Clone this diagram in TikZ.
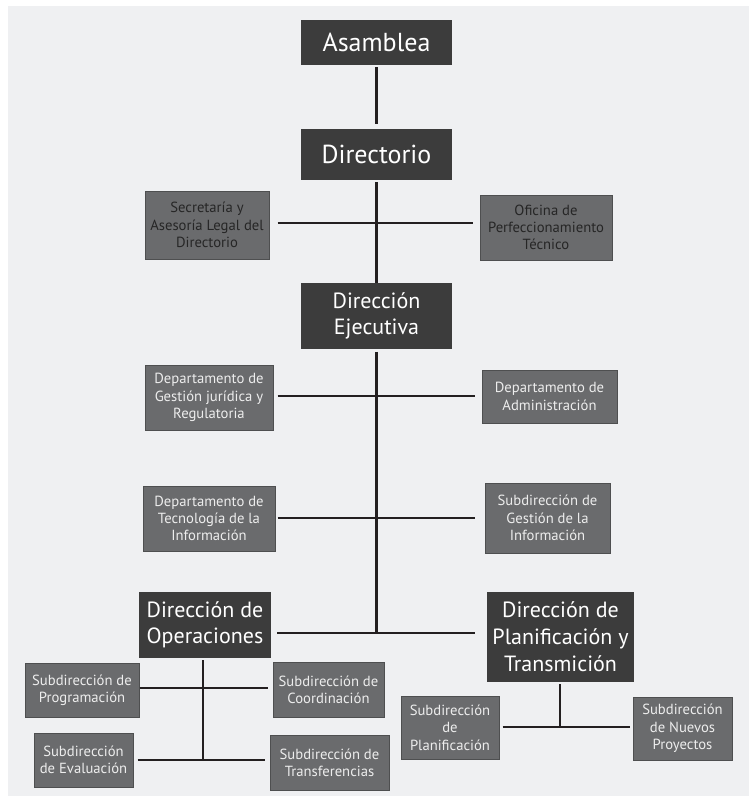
\documentclass[tikz,border=0pt]{standalone}
\usepackage{fontspec}
\setmainfont{PT Sans}
\usetikzlibrary{positioning}
\definecolor{fondo}{HTML}{EFF0F2}
\definecolor{oscuro}{HTML}{3C3C3C}
\definecolor{medio}{HTML}{6A6B6D}
\definecolor{borde}{HTML}{4E4F50}
\definecolor{linea}{HTML}{231F20}
\definecolor{claro}{HTML}{EDEDED}
\definecolor{negro}{HTML}{262626}

\begin{document}
\begin{tikzpicture}[x=0.75pt, y=-0.75pt,
	direccion/.style={fill=oscuro, text=white, align=center, inner sep=0pt, font=\fontsize{16.5}{19.5}\selectfont},
	cargo/.style={direccion, font=\fontsize{19.5}{22}\selectfont},
	unidad/.style={fill=medio, draw=borde, line width=0.75pt, text=claro, align=center, inner sep=0pt, font=\fontsize{11}{13}\selectfont},
	unidadclara/.style={unidad, text=negro},
	enlace/.style={draw=linea, line width=2.2pt}]
				\useasboundingbox (0,0) rectangle (749,796);
				\fill [fondo] (8,6) rectangle (749,796);

				\node [cargo, minimum width=113.25pt, minimum height=33.75pt] (asamblea) at (376.5, 42.5) {Asamblea};
				\node [cargo, minimum width=113.25pt, minimum height=38.25pt] (directorio) at (376.5, 154.5) {Directorio};
				\node [unidadclara, minimum width=93pt, minimum height=51pt] (secretaria) at (207, 225) {Secretaría y\\Asesoría Legal del\\Directorio};
				\node [unidadclara, minimum width=99pt, minimum height=48.75pt] (oficina) at (546, 227.5) {Oficina de\\Perfeccionamiento\\Técnico};
				\node [direccion, minimum width=113.25pt, minimum height=49.5pt] (ejecutiva) at (376.5, 316) {Dirección\\Ejecutiva};
				\node [unidad, minimum width=96pt, minimum height=48.75pt] (juridica) at (209, 397.5) {Departamento de\\Gestión jurídica y\\Regulatoria};
				\node [unidad, minimum width=101.25pt, minimum height=39.75pt] (administracion) at (549.5, 396.5) {Departamento de\\Administración};
				\node [unidad, minimum width=99pt, minimum height=48.75pt] (tecnologia) at (209, 518.5) {Departamento de\\Tecnología de la\\Información};
				\node [unidad, minimum width=93.75pt, minimum height=52.5pt] (gestioninfo) at (547.5, 518) {Subdirección de\\Gestión de la\\Información};
				\node [direccion, minimum width=99pt, minimum height=49.5pt] (operaciones) at (205, 625) {Dirección de\\Operaciones};
				\node [direccion, minimum width=110.25pt, minimum height=67.5pt, font=\fontsize{16.5}{20.25}\selectfont] (planificacion) at (560.5, 637) {Dirección de\\Planificación y\\Transmición};
				\node [unidad, minimum width=85.5pt, minimum height=40.5pt] (programacion) at (82, 690) {Subdirección de\\Programación};
				\node [unidad, minimum width=83.25pt, minimum height=41.25pt] (coordinacion) at (328.5, 689.5) {Subdirección de\\Coordinación};
				\node [unidad, minimum width=74.25pt, minimum height=40.5pt] (evaluacion) at (83.5, 760) {Subdirección\\de Evaluación};
				\node [unidad, minimum width=89.25pt, minimum height=41.25pt] (transferencias) at (329.5, 762.5) {Subdirección de\\Transferencias};
				\node [unidad, minimum width=73.5pt, minimum height=47.25pt] (subplanif) at (450, 727.5) {Subdirección\\de\\Planificación};
				\node [unidad, minimum width=74.25pt, minimum height=47.25pt] (nuevos) at (682.5, 728.5) {Subdirección\\de Nuevos\\Proyectos};

				\coordinate (eje1) at (376.5, 223);
				\coordinate (eje2) at (376.5, 396);
				\coordinate (eje3) at (376.5, 518);
				\coordinate (eje4) at (376.5, 633);
				\coordinate (ope1) at (203, 688);
				\coordinate (ope2) at (203, 760);
				\coordinate (pla1) at (560, 727);

				\draw [enlace, shorten <=1.5pt, shorten >=3.5pt] (asamblea) to (directorio);
				\draw [enlace, shorten <=1.5pt] (directorio) to (ejecutiva);
				\draw [enlace, shorten <=2pt] (ejecutiva) to (eje4);
				\draw [enlace, shorten <=6pt, shorten >=5.25pt] (secretaria.east |- eje1) to (oficina.west |- eje1);
				\draw [enlace, shorten <=3pt, shorten >=5.25pt] (juridica.east |- eje2) to (administracion.west |- eje2);
				\draw [enlace, shorten <=1.5pt, shorten >=7.5pt] (tecnologia.east |- eje3) to (gestioninfo.west |- eje3);
				\draw [enlace, shorten <=4.5pt, shorten >=9pt] (operaciones.east |- eje4) to (planificacion.west |- eje4);
				\draw [enlace, shorten <=1.5pt] (operaciones.south -| ope1) to (ope2);
				\draw [enlace, shorten >=3.75pt] (programacion.east |- ope1) to (coordinacion.west |- ope1);
				\draw [enlace, shorten <=3pt, shorten >=3.75pt] (evaluacion.east |- ope2) to (transferencias.west |- ope2);
				\draw [enlace, shorten <=1.5pt] (planificacion.south -| pla1) to (pla1);
				\draw [enlace, shorten <=2.25pt, shorten >=2.25pt] (subplanif.east |- pla1) to (nuevos.west |- pla1);
		\end{tikzpicture}
\end{document}
